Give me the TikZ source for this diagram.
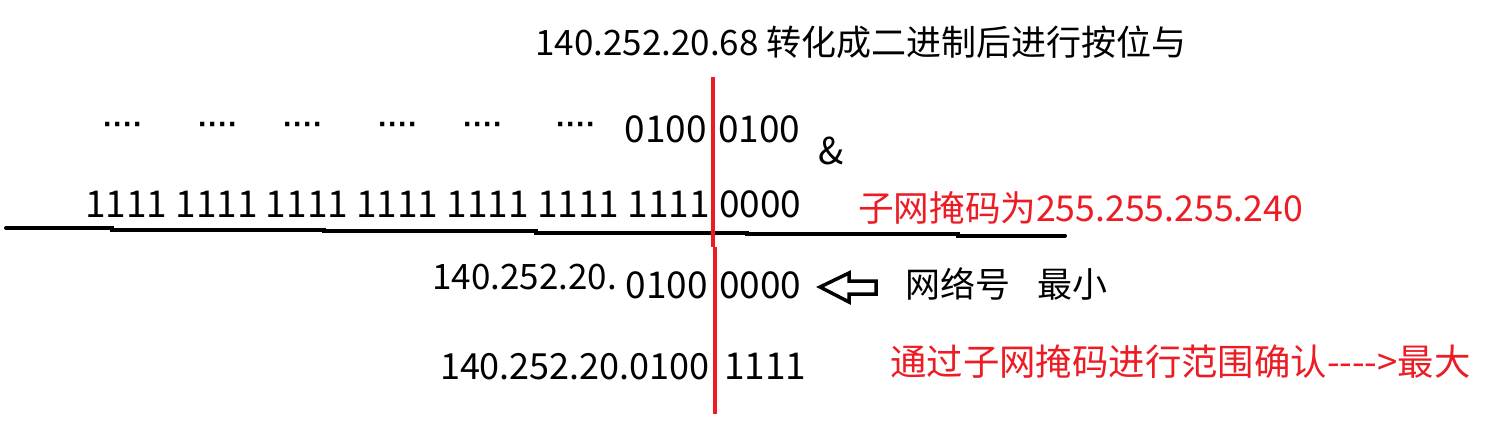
\documentclass[tikz,border=0pt]{standalone}
\usepackage{fontspec}
\setmainfont{Noto Sans CJK SC}
\newfontfamily\dotfont{Liberation Sans}
\definecolor{mred}{RGB}{237,28,36}
\begin{document}
\begin{tikzpicture}[x=1pt,y=-1pt,
  txt/.style={inner sep=0pt,anchor=base west,font=\fontsize{35}{40}\selectfont},
  dig/.style={inner sep=0pt,anchor=base west,font=\fontsize{37}{42}\selectfont},
  rtxt/.style={inner sep=0pt,anchor=base west,text=mred,font=\fontsize{35.6}{40}\selectfont},
  dots/.style={inner sep=0pt,anchor=base west,font=\dotfont\bfseries\fontsize{30}{36}\selectfont}]
\useasboundingbox (0,0) rectangle (1495,421);
\fill[white] (0,0) rectangle (1495,421);
% title
\node[txt] (title) at (535,55) {140.252.20.68 转化成二进制后进行按位与};
% row 1
\node[dots] (d1) at (103,134) {····};
\node[dots] (d2) at (198,134) {····};
\node[dots] (d3) at (283,134) {····};
\node[dots] (d4) at (378,134) {····};
\node[dots] (d5) at (463,134) {····};
\node[dots] (d6) at (556,134) {····};
\node[dig,anchor=base east] (a1) at (707,142) {0100};
\node[dig] (a2) at (718,142) {0100};
\node[dig] (amp) at (818,164) {\&};
% row 2
\node[dig,anchor=base east] (m1) at (710,217) {1111 1111 1111 1111 1111 1111 1111};
\node[dig] (m2) at (719,217) {0000};
\node[rtxt] (mask) at (858,221) {子网掩码为255.255.255.240};
% separator line
\draw[line width=4pt,line cap=round] (6,228) -- (112,228) -- (112,229.5) -- (324,229.5) -- (324,231) -- (536,231) -- (536,232.5) -- (747,232.5) -- (747,234) -- (958,234) -- (958,235.5) -- (1065,235.5);
% row 3
\node[txt] (n0) at (432,289) {140.252.20.};
\node[dig,anchor=base east] (n1) at (708,298) {0100};
\node[dig] (n2) at (719,298) {0000};
\draw[line width=3.5pt,line join=miter] (820,287) -- (849,273) -- (849,281) -- (876,281) -- (876,294) -- (849,294) -- (849,302) -- cycle;
\node[txt] (net) at (905,297) {网络号};
\node[txt] (min) at (1037,297) {最小};
% row 4
\node[dig,anchor=base east,font=\fontsize{36}{40}\selectfont] (b0) at (710,379) {140.252.20.0100};
\node[dig] (b1) at (724,379) {1111};
\node[rtxt,font=\fontsize{36.4}{40}\selectfont] (range) at (890,375) {通过子网掩码进行范围确认-{}-{}-{}->最大};
% red divider
\coordinate (r1) at (713,77);
\coordinate (r2) at (713,247);
\coordinate (r3) at (715,247);
\coordinate (r4) at (715,414);
\draw[mred,line width=4pt] (r1) -- (r2);
\draw[mred,line width=4pt] (r3) -- (r4);
\end{tikzpicture}
\end{document}
